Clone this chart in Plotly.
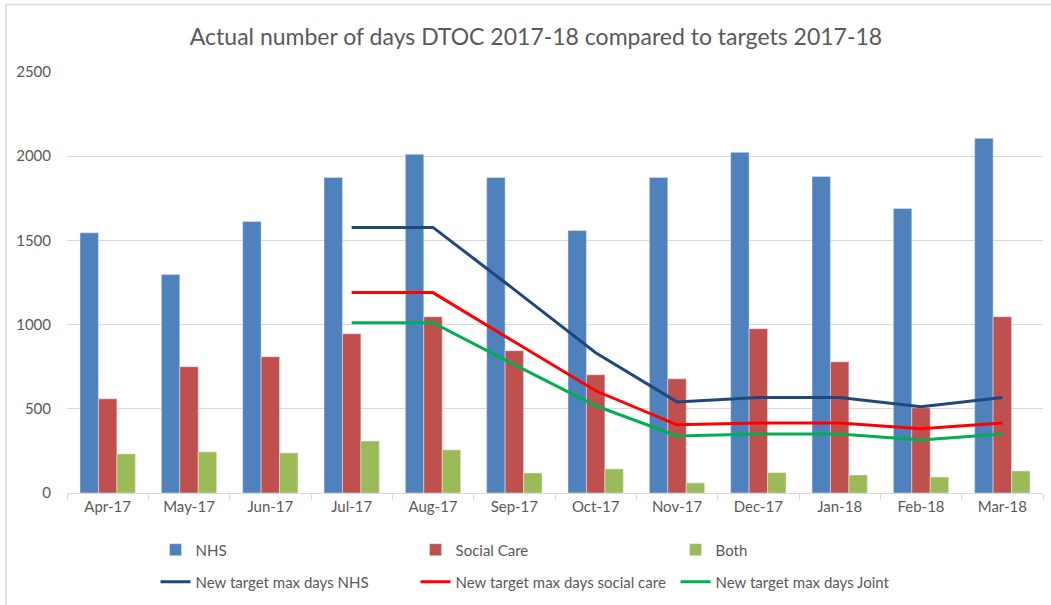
import plotly.graph_objects as go

months = ["Apr-17", "May-17", "Jun-17", "Jul-17", "Aug-17", "Sep-17",
          "Oct-17", "Nov-17", "Dec-17", "Jan-18", "Feb-18", "Mar-18"]

nhs = [1545, 1297, 1612, 1874, 2011, 1874, 1559, 1874, 2023, 1880, 1690, 2106]
social_care = [559, 750, 809, 946, 1047, 845, 702, 678, 976, 779, 506, 1047]
both = [232, 244, 238, 309, 256, 119, 143, 60, 121, 107, 95, 131]

target_nhs = [None, None, None, 1577, 1577, 1208, 833, 541, 567, 567, 512, 567]
target_social = [None, None, None, 1190, 1190, 898, 607, 405, 416, 416, 381, 416]
target_joint = [None, None, None, 1011, 1011, 762, 518, 339, 351, 351, 315, 350]

FONT = "Lato"
GREY = "#595959"
BORDER = "#D9D9D9"

fig = go.Figure()

# bars
fig.add_trace(go.Bar(x=months, y=nhs, name="NHS", marker_color="#4F81BD"))
fig.add_trace(go.Bar(x=months, y=social_care, name="Social Care", marker_color="#C0504D"))
fig.add_trace(go.Bar(x=months, y=both, name="Both", marker_color="#9BBB59"))

# target lines
fig.add_trace(go.Scatter(x=months, y=target_nhs, mode="lines",
                         name="New target max days NHS", legend="legend2",
                         line=dict(color="#1F497D", width=3)))
fig.add_trace(go.Scatter(x=months, y=target_social, mode="lines",
                         name="New target max days social care", legend="legend2",
                         line=dict(color="#FF0000", width=3)))
fig.add_trace(go.Scatter(x=months, y=target_joint, mode="lines",
                         name="New target max days Joint", legend="legend2",
                         line=dict(color="#00B050", width=3)))

legend_style = dict(
    orientation="h",
    xref="container", yref="container",
    x=0.148, xanchor="left",
    yanchor="middle",
    entrywidth=215,
    entrywidthmode="pixels",
    font=dict(family=FONT, size=15, color=GREY),
    bgcolor="rgba(0,0,0,0)",
)

fig.update_layout(
    width=1051,
    height=605,
    margin=dict(l=67, r=8, t=72, b=112),
    paper_bgcolor="white",
    plot_bgcolor="white",
    font=dict(family=FONT, size=15, color=GREY),
    title=dict(
        text="Actual number of days DTOC 2017-18 compared to targets 2017-18",
        x=0.51, xanchor="center", y=0.939, yanchor="middle",
        font=dict(family=FONT, size=23, color=GREY),
    ),
    barmode="group",
    bargap=0.32,
    bargroupgap=0,
    xaxis=dict(
        showgrid=False,
        showline=True,
        linecolor=BORDER,
        ticks="outside",
        tickson="boundaries",
        ticklen=6,
        tickcolor=BORDER,
        tickfont=dict(size=15, color=GREY),
    ),
    yaxis=dict(
        range=[0, 2500],
        dtick=500,
        showgrid=True,
        gridcolor=BORDER,
        zeroline=False,
        showline=False,
        ticks="",
        tickfont=dict(size=15, color=GREY),
        ticklabelstandoff=15,
    ),
    legend=dict(legend_style, y=0.091),
    legend2=dict(legend_style, y=0.038),
    # chart-area border (left and top edges only are visible in the original)
    shapes=[
        dict(type="line", xref="paper", yref="paper",
             x0=-0.0625, x1=-0.0625, y0=-0.27, y1=1.1603,
             line=dict(color=BORDER, width=1.5), layer="below"),
        dict(type="line", xref="paper", yref="paper",
             x0=-0.0625, x1=1.01, y0=1.1603, y1=1.1603,
             line=dict(color=BORDER, width=1.5), layer="below"),
    ],
)

# drop the default page margin so the figure sits at the window origin
fig.write_html("out.html", config={"displayModeBar": False},
               post_script="document.body.style.margin='0';")
